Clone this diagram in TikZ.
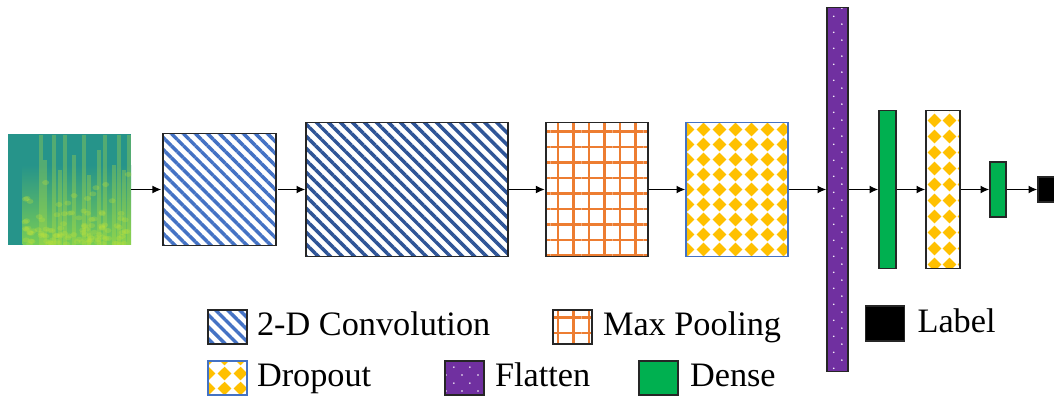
\documentclass[tikz,border=0pt]{standalone}
\usepackage{fontspec}
\setmainfont{Liberation Serif}
\newfontfamily\legendfont{Liberation Serif}
\usetikzlibrary{positioning, patterns, patterns.meta, arrows.meta}

\definecolor{convlight}{HTML}{4472C4}
\definecolor{convdark}{HTML}{2F5597}
\definecolor{poolorange}{HTML}{ED7D31}
\definecolor{dropyellow}{HTML}{FFC000}
\definecolor{flatpurple}{HTML}{7030A0}
\definecolor{densegreen}{HTML}{00B050}
\definecolor{specteal}{RGB}{38,148,138}
\definecolor{specgreen}{RGB}{120,205,85}
\definecolor{specyellow}{RGB}{190,225,60}

\pgfdeclarepatternformonly{diamonds}{\pgfpointorigin}{\pgfpoint{8.8pt}{8.8pt}}{\pgfpoint{8.8pt}{8.8pt}}{%
  \pgfpathmoveto{\pgfpoint{4.4pt}{0.4pt}}%
  \pgfpathlineto{\pgfpoint{8.4pt}{4.4pt}}%
  \pgfpathlineto{\pgfpoint{4.4pt}{8.4pt}}%
  \pgfpathlineto{\pgfpoint{0.4pt}{4.4pt}}%
  \pgfpathclose
  \pgfusepath{fill}}
\pgfdeclarepatternformonly{flatdots}{\pgfpointorigin}{\pgfpoint{9pt}{9pt}}{\pgfpoint{9pt}{9pt}}{%
  \pgfpathcircle{\pgfpoint{2.25pt}{2.25pt}}{0.5pt}%
  \pgfpathcircle{\pgfpoint{6.75pt}{6.75pt}}{0.5pt}%
  \pgfusepath{fill}}

\tikzset{
  layer/.style={draw=black!85, line width=0.8pt, inner sep=0pt},
  convlayer/.style={layer, pattern={Lines[angle=-45,distance=0.17cm,line width=0.07cm]}, pattern color=#1},
  poollayer/.style={layer, pattern={Hatch[angle=0,distance=0.31cm,line width=0.05cm]}, pattern color=poolorange},
  droplayer/.style={layer, draw=#1, pattern=diamonds, pattern color=dropyellow},
  flatlayer/.style={layer, preaction={fill=flatpurple}, pattern=flatdots, pattern color=white},
  denselayer/.style={layer, fill=densegreen},
  labellayer/.style={layer, fill=black},
  keybox/.style={minimum width=0.78cm, minimum height=0.68cm},
  keytext/.style={inner sep=0pt, text height=0.44cm, text depth=0.1cm, font=\legendfont\fontsize{19.5}{22}\selectfont},
  flow/.style={-{Latex[length=5pt,width=4.5pt]}, line width=0.8pt}
}

\begin{document}
\begin{tikzpicture}
  \useasboundingbox (0, 0) rectangle (21.08, 7.9);

  \node [inner sep=0pt, minimum width=2.46cm, minimum height=2.2cm] (spec) at (1.39, 4.11) {};
  \begin{scope}
    \clip (spec.south west) rectangle (spec.north east);
    \fill [specteal] (spec.south west) rectangle (spec.north east);
    \shade [top color=specteal, bottom color=specgreen] (0.45, 3.01) rectangle (2.62, 4.6);
    \foreach \x/\h in {0.78/2.2, 0.86/1.7, 1.04/2.2, 1.16/1.5, 1.26/2.2, 1.44/1.8,
                       1.64/2.2, 1.74/1.4, 1.94/1.9, 2.06/2.2, 2.24/1.6, 2.34/2.2, 2.44/1.5, 2.54/2.2}
      \fill [specyellow, opacity=0.3] (\x, 3.01) rectangle ++(0.08, \h);
    \pgfmathsetseed{11}
    \foreach \i in {1,...,110} {
      \pgfmathsetmacro\bx{0.5 + 2.1*rnd}
      \pgfmathsetmacro\by{3.02 + 1.5*rnd*rnd}
      \fill [specyellow, opacity=0.3] (\bx, \by) ellipse (0.07 and 0.05);
    }
  \end{scope}

  \node [convlayer=convlight, minimum width=2.26cm, minimum height=2.24cm] (conva) at (4.39, 4.11) {};
  \node [convlayer=convdark, minimum width=4.04cm, minimum height=2.68cm] (convb) at (8.14, 4.11) {};
  \node [poollayer, minimum width=2.04cm, minimum height=2.68cm] (pool) at (11.94, 4.11) {};
  \node [droplayer=convlight, minimum width=2.04cm, minimum height=2.68cm] (dropa) at (14.74, 4.11) {};
  \node [flatlayer, minimum width=0.42cm, minimum height=7.28cm] (flat) at (16.75, 4.11) {};
  \node [denselayer, minimum width=0.34cm, minimum height=3.16cm] (densea) at (17.75, 4.11) {};
  \node [droplayer=black!85, minimum width=0.68cm, minimum height=3.16cm] (dropb) at (18.86, 4.11) {};
  \node [denselayer, minimum width=0.32cm, minimum height=1.1cm] (denseb) at (19.96, 4.11) {};
  \node [labellayer, minimum width=0.5cm, minimum height=0.5cm] (out) at (21.01, 4.11) {};

  \draw [flow] (spec.east) -- (conva.west);
  \draw [flow] (conva.east) -- (convb.west);
  \draw [flow] (convb.east) -- (pool.west);
  \draw [flow] (pool.east) -- (dropa.west);
  \draw [flow] (dropa.east) -- (flat.west);
  \draw [flow] (flat.east) -- (densea.west);
  \draw [flow] (densea.east) -- (dropb.west);
  \draw [flow] (dropb.east) -- (denseb.west);
  \draw [flow] (denseb.east) -- (out.west);

  \node [convlayer=convlight, keybox] (keyconv) at (4.55, 1.36) {};
  \node [keytext, right=0.18cm of keyconv] (tconv) {2-D Convolution};
  \node [poollayer, keybox] (keypool) at (11.45, 1.36) {};
  \node [keytext, right=0.2cm of keypool] (tpool) {Max Pooling};
  \node [droplayer=convlight, keybox] (keydrop) at (4.55, 0.34) {};
  \node [keytext, right=0.18cm of keydrop] (tdrop) {Dropout};
  \node [flatlayer, keybox] (keyflat) at (9.29, 0.34) {};
  \node [keytext, right=0.2cm of keyflat] (tflat) {Flatten};
  \node [denselayer, keybox] (keydense) at (13.17, 0.34) {};
  \node [keytext, right=0.22cm of keydense] (tdense) {Dense};
  \node [labellayer, keybox, minimum height=0.7cm] (keylabel) at (17.7, 1.43) {};
  \node [keytext, right=0.24cm of keylabel] (tlabel) {Label};
\end{tikzpicture}
\end{document}
